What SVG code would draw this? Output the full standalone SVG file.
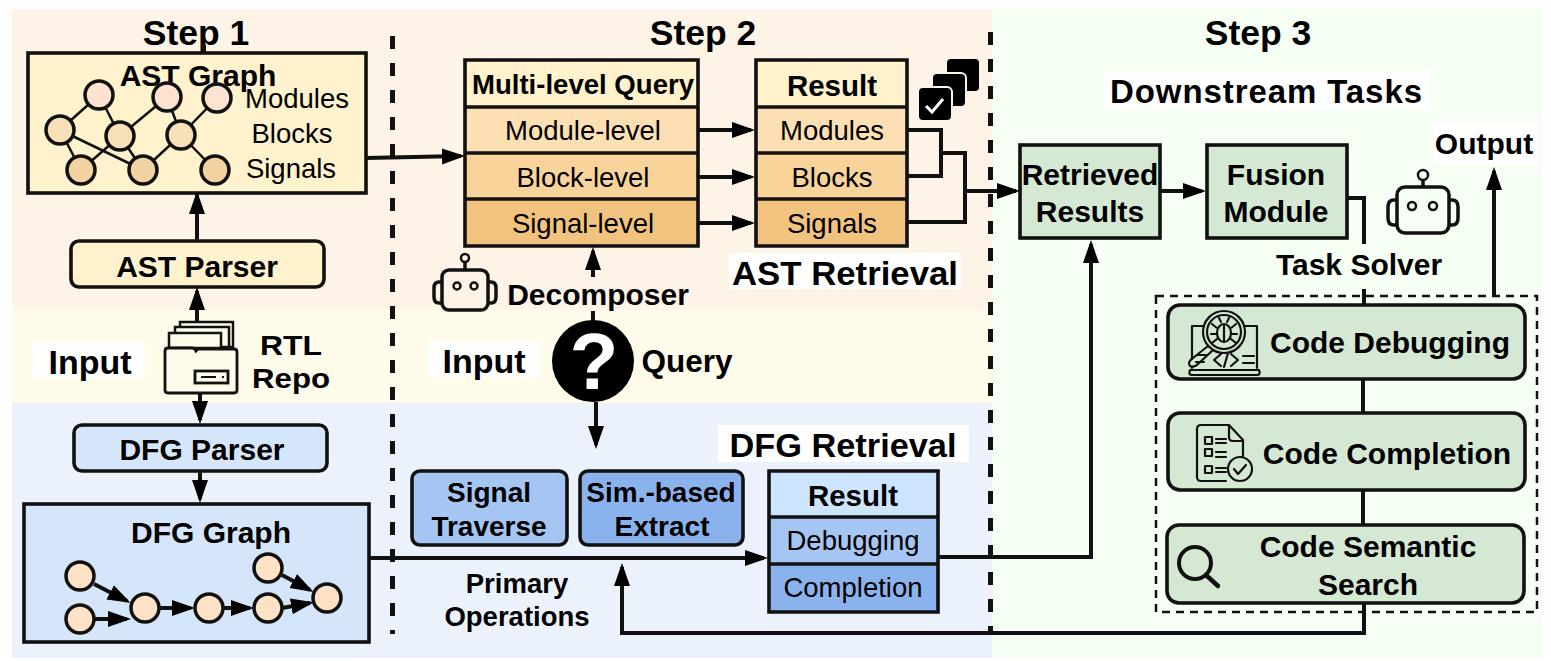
<svg xmlns="http://www.w3.org/2000/svg" width="1551" height="661" viewBox="0 0 1551 661">
<style>
text{font-family:"Liberation Sans",Arial,sans-serif;fill:#000;text-anchor:middle}
.b{font-weight:700}
.s{font-size:28px}.m{font-size:30px}.r{font-size:27.500px}.h{font-size:35.500px}
.box{stroke:#111;stroke-width:3.600}
.n{stroke:#111;stroke-width:3.500}
.e{stroke:#111;stroke-width:2.500;fill:none}
.c{stroke:#111;stroke-width:4;fill:none}
.a{marker-end:url(#ah)}
.i{fill:none;stroke:#111;stroke-width:2.200;stroke-linecap:round;stroke-linejoin:round}
.rb{fill:none;stroke:#111;stroke-width:3.500;stroke-linejoin:round}
.sep{stroke:#111;stroke-width:5;stroke-dasharray:13 14;fill:none}
</style>
<defs>
<marker id="ah" markerUnits="userSpaceOnUse" markerWidth="24" markerHeight="18" refX="19" refY="9" orient="auto"><path d="M0 1L23 9L0 17Z" fill="#000"/></marker>
</defs>
<rect x="0" y="0" width="1551" height="661" fill="#fff"/>
<g id="backgrounds">
<rect x="12" y="9" width="980" height="301" fill="#fef3e7"/>
<rect x="12" y="310" width="980" height="93" fill="#fefbeb"/>
<rect x="12" y="403" width="980" height="255" fill="#ebf2fc"/>
<rect x="992" y="9" width="550" height="649" fill="#f6fff4"/>
</g>
<path class="sep" d="M392.500 36V634"/>
<path class="sep" d="M990.500 32V634"/>
<g id="labels">
<text class="b h" x="196" y="45">Step 1</text>
<text class="b h" x="703" y="45">Step 2</text>
<text class="b h" x="1258" y="45">Step 3</text>
<rect x="1104" y="71" width="325" height="38" fill="#fff"/>
<text class="b" font-size="33" x="1266" y="103" textLength="312" lengthAdjust="spacing">Downstream Tasks</text>
<rect x="33" y="342" width="112" height="36" fill="#fff"/>
<text class="b" font-size="34" x="90" y="374">Input</text>
<text class="b" font-size="28" x="291" y="355" textLength="62" lengthAdjust="spacingAndGlyphs">RTL</text>
<text class="b" font-size="28" x="291" y="388" textLength="78" lengthAdjust="spacingAndGlyphs">Repo</text>
<rect x="428" y="341" width="112" height="36" fill="#fff"/>
<text class="b" font-size="34" x="484" y="373">Input</text>
<text class="b" font-size="31.500" x="687" y="372">Query</text>
<text class="b" font-size="30" x="598" y="305">Decomposer</text>
<rect x="729" y="253" width="232" height="36" fill="#fff"/>
<text class="b" font-size="33" x="845" y="285" textLength="226" lengthAdjust="spacingAndGlyphs">AST Retrieval</text>
<rect x="718" y="425" width="251" height="37" fill="#fff"/>
<text class="b" font-size="33" x="843" y="457" textLength="227" lengthAdjust="spacingAndGlyphs">DFG Retrieval</text>
<text class="b" font-size="27.500" x="517" y="593">Primary</text>
<text class="b" font-size="27.500" x="517" y="626">Operations</text>
<text class="b" font-size="30" x="1359" y="275">Task Solver</text>
<rect x="1433" y="122" width="104" height="43" fill="#fff"/>
<text class="b" font-size="30" x="1484" y="154">Output</text>
</g>
<g id="connectors">
<path class="c" d="M204 45V53"/>
<path class="c a" d="M197 241V195"/>
<path class="c a" d="M197 322V291"/>
<path class="c a" d="M200 391V420"/>
<path class="c a" d="M200 471V499"/>
<path class="c a" d="M366 158L461 156"/>
<path class="c a" d="M698 130H751"/>
<path class="c a" d="M698 177H751"/>
<path class="c a" d="M698 223H751"/>
<path class="c" d="M907 130H941V176H907"/>
<path class="c" d="M941 153H965V222H907"/>
<path class="c a" d="M963 191H1016"/>
<path class="c a" d="M593 277V251"/>
<path class="c" d="M593 311V322"/>
<path class="c a" d="M596 402V445"/>
<path class="c a" d="M369 558H764"/>
<path class="c a" d="M938 557H1091V244"/>
<path class="c a" d="M1364 604V633H622V567"/>
<path class="c a" d="M1161 191H1202"/>
<path class="c" d="M1347 198H1364V244"/>
<path class="c" d="M1364 289V305"/>
<path class="c" d="M1363 379V413"/>
<path class="c" d="M1363 490V525"/>
<path class="c a" d="M1494 296V171"/>
</g>
<g id="ast-graph">
<rect class="box" x="28" y="53" width="338" height="140" fill="#fff2cc"/>
<text class="b m" x="198" y="86">AST Graph</text>
<path class="e" d="M99 95L60 130M99 95L120 136M167 97L120 136M167 97L181 135M217 98L181 135M60 130L81 170M60 130L143 170M120 136L81 170M120 136L143 170M181 135L143 170M181 135L215 170"/>
<g class="n" fill="#ffe3d0"><circle cx="99" cy="95" r="14"/><circle cx="167" cy="97" r="14"/><circle cx="217" cy="98" r="14"/></g>
<g class="n" fill="#f8e0b8"><circle cx="60" cy="130" r="14"/><circle cx="120" cy="136" r="14"/><circle cx="181" cy="135" r="14"/></g>
<g class="n" fill="#f1d2a0"><circle cx="81" cy="170" r="14"/><circle cx="143" cy="170" r="14"/><circle cx="215" cy="170" r="14"/></g>
<text class="r" x="297" y="108">Modules</text>
<text class="r" x="292" y="143">Blocks</text>
<text class="r" x="291" y="178">Signals</text>
</g>
<g id="ast-parser">
<rect class="box" x="71" y="241" width="253" height="46" rx="8" fill="#fff2cc"/>
<text class="b m" x="197" y="277">AST Parser</text>
</g>
<g id="rtl-repo">
<path d="M180 347V322H233V347Z" fill="#fefbeb" stroke="#111" stroke-width="2.500"/>
<path d="M175 347V327H229V347Z" fill="#fefbeb" stroke="#111" stroke-width="2.500"/>
<path d="M169 348V333H221V348Z" fill="#fefbeb" stroke="#111" stroke-width="2.500"/>
<path d="M165 390V351Q165 348 168 348H192Q195 348 196 351L198 349H234Q237 349 237 352V390Q237 393 234 393H168Q165 393 165 390Z" fill="#fefbeb" stroke="#111" stroke-width="2.800"/>
<rect x="195" y="371" width="33" height="12" fill="#fefbeb" stroke="#111" stroke-width="2.800"/>
<path d="M201 377H216M222 377H224" stroke="#111" stroke-width="2" fill="none"/>
</g>
<g id="dfg-parser">
<rect class="box" x="74" y="425" width="253" height="46" rx="8" fill="#d6e6fa"/>
<text class="b m" x="202" y="460">DFG Parser</text>
</g>
<g id="dfg-graph">
<rect class="box" x="24" y="504" width="345" height="138" fill="#d6e6fa"/>
<text class="b m" x="211" y="543">DFG Graph</text>
<path class="c a" d="M94 584L127 601"/>
<path class="c a" d="M95 619H127"/>
<path class="c a" d="M159 608H191"/>
<path class="c a" d="M223 608H250"/>
<path class="c a" d="M282 608L310 603"/>
<path class="c a" d="M282 575L310 590"/>
<g class="n" fill="#ffe2c6"><circle cx="80" cy="576" r="14"/><circle cx="80" cy="619" r="14"/><circle cx="145" cy="608" r="14"/><circle cx="209" cy="608" r="14"/><circle cx="268" cy="608" r="14"/><circle cx="268" cy="568" r="14"/><circle cx="327" cy="598" r="14"/></g>
</g>
<g id="multi-level-query">
<rect x="465" y="60" width="233" height="47" fill="#fff2cc"/>
<rect x="465" y="107" width="233" height="46" fill="#fce0b4"/>
<rect x="465" y="153" width="233" height="46" fill="#f8d49b"/>
<rect x="465" y="199" width="233" height="47" fill="#f2c27f"/>
<path class="box" fill="none" d="M465 60H698V246H465ZM465 107H698M465 153H698M465 199H698"/>
<text class="b" font-size="27" x="583" y="94" textLength="222" lengthAdjust="spacingAndGlyphs">Multi-level Query</text>
<text class="r" x="583" y="140">Module-level</text>
<text class="r" x="583" y="187">Block-level</text>
<text class="r" x="583" y="233">Signal-level</text>
</g>
<g id="ast-result">
<rect x="756" y="60" width="151" height="47" fill="#fff2cc"/>
<rect x="756" y="107" width="151" height="46" fill="#fce0b4"/>
<rect x="756" y="153" width="151" height="46" fill="#f8d49b"/>
<rect x="756" y="199" width="151" height="47" fill="#f2c27f"/>
<path class="box" fill="none" d="M756 60H907V246H756ZM756 107H907M756 153H907M756 199H907"/>
<text class="b" font-size="29.500" x="832" y="96">Result</text>
<text class="r" x="832" y="140">Modules</text>
<text class="r" x="832" y="187">Blocks</text>
<text class="r" x="832" y="233">Signals</text>
</g>
<g id="check-icon">
<rect x="947" y="59" width="32" height="32" rx="4" fill="#000"/>
<rect x="932" y="73" width="34" height="34" rx="5" fill="#000" stroke="#fef3e7" stroke-width="2"/>
<rect x="918" y="87" width="34" height="34" rx="5" fill="#000" stroke="#fef3e7" stroke-width="2"/>
<path d="M926 106L932 112L943 99" fill="none" stroke="#fff" stroke-width="3"/>
</g>
<g id="robot-decomposer">
<rect class="rb" x="442" y="270" width="46" height="40" rx="7"/>
<path class="rb" d="M442 282H439Q434 282 434 288V297Q434 303 439 303H442M488 282H491Q496 282 496 288V297Q496 303 491 303H488M465 270V263"/>
<circle cx="465" cy="258" r="4" fill="none" stroke="#111" stroke-width="2.500"/>
<circle cx="457" cy="286" r="3.500" fill="none" stroke="#111" stroke-width="2.500"/>
<circle cx="474" cy="286" r="3.500" fill="none" stroke="#111" stroke-width="2.500"/>
</g>
<g id="query">
<ellipse cx="593" cy="361" rx="41" ry="41" fill="#000"/>
<text class="b" font-size="80" x="594" y="389" style="fill:#fff">?</text>
</g>
<g id="signal-traverse">
<rect class="box" x="412" y="471" width="155" height="74" rx="8" fill="#a5c5f2"/>
<text class="b s" x="489" y="502">Signal</text>
<text class="b s" x="489" y="536">Traverse</text>
</g>
<g id="sim-extract">
<rect class="box" x="580" y="471" width="163" height="74" rx="8" fill="#8ab3ee"/>
<text class="b s" x="661" y="502">Sim.-based</text>
<text class="b s" x="662" y="536">Extract</text>
</g>
<g id="dfg-result">
<rect x="769" y="471" width="169" height="46" fill="#cde4fd"/>
<rect x="769" y="517" width="169" height="47" fill="#a5c5f2"/>
<rect x="769" y="564" width="169" height="48" fill="#8ab3ee"/>
<path class="box" fill="none" d="M769 471H938V612H769ZM769 517H938M769 564H938"/>
<text class="b" font-size="29.500" x="853" y="506">Result</text>
<text class="r" x="853" y="550">Debugging</text>
<text class="r" x="853" y="597">Completion</text>
</g>
<g id="retrieved-results">
<rect class="box" x="1020" y="145" width="140" height="93" fill="#d5e8d4"/>
<text class="b m" x="1090" y="185">Retrieved</text>
<text class="b m" x="1090" y="222">Results</text>
</g>
<g id="fusion-module">
<rect class="box" x="1207" y="145" width="140" height="93" fill="#d5e8d4"/>
<text class="b m" x="1276" y="185">Fusion</text>
<text class="b m" x="1276" y="222">Module</text>
</g>
<g id="robot-solver">
<rect class="rb" x="1397" y="187" width="52" height="46" rx="8"/>
<path class="rb" d="M1397 200H1394Q1388 200 1388 207V218Q1388 225 1394 225H1397M1449 200H1452Q1458 200 1458 207V218Q1458 225 1452 225H1449M1423 187V181"/>
<circle cx="1423" cy="175" r="5" fill="none" stroke="#111" stroke-width="2.500"/>
<circle cx="1412" cy="206" r="4" fill="none" stroke="#111" stroke-width="2.500"/>
<circle cx="1433" cy="206" r="4" fill="none" stroke="#111" stroke-width="2.500"/>
</g>
<rect id="task-frame" x="1156" y="296" width="381" height="316" fill="none" stroke="#111" stroke-width="2.500" stroke-dasharray="8 6"/>
<g id="code-debugging">
<rect class="box" x="1168" y="305" width="357" height="74" rx="12" fill="#d5e8d4"/>
<path class="i" d="M1205 326H1192V368M1240 326H1257V368M1190 370H1259Q1261 375 1257 375H1192Q1188 375 1190 370Z"/>
<circle cx="1224" cy="332" r="21" fill="#d5e8d4" stroke="#111" stroke-width="2.200"/>
<circle cx="1224" cy="332" r="17" class="i"/>
<ellipse cx="1224" cy="333" rx="7" ry="9" class="i"/>
<path class="i" d="M1224 325V342M1217 328L1212 324M1231 328L1236 324M1217 334H1211M1231 334H1237M1217 339L1212 343M1231 339L1236 343M1221 322L1219 318M1227 322L1229 318"/>
<path d="M1208 346L1193 358Q1187 362 1190 366Q1194 368 1198 364L1213 350Z" fill="#d5e8d4" stroke="#111" stroke-width="2.200" stroke-linejoin="round"/>
<path class="i" d="M1206 355H1198M1204 362H1196M1221 354L1214 360L1221 366M1228 353L1224 367M1231 354L1238 360L1231 366M1243 356H1254M1243 363H1254"/>
<text class="b m" x="1390" y="353">Code Debugging</text>
</g>
<g id="code-completion">
<rect class="box" x="1168" y="413" width="357" height="77" rx="12" fill="#d5e8d4"/>
<path class="i" d="M1226 481H1201Q1197 481 1197 477V429Q1197 425 1201 425H1229L1243 440V456M1229 425V437Q1229 441 1233 441H1243"/>
<path class="i" d="M1205 437h7v7h-7zM1205 449h7v7h-7zM1205 466h7v7h-7zM1216 439H1226M1216 443H1226M1216 452H1226M1216 457H1226M1216 468H1226M1216 472H1226"/>
<circle cx="1240" cy="469" r="12" class="i" fill="#d5e8d4"/>
<path class="i" d="M1234 469L1238 474L1246 465"/>
<text class="b m" x="1387" y="464">Code Completion</text>
</g>
<g id="code-semantic-search">
<rect class="box" x="1167" y="525" width="357" height="78" rx="12" fill="#d5e8d4"/>
<circle cx="1195" cy="563" r="16" fill="none" stroke="#111" stroke-width="4"/>
<path d="M1206 575L1218 586" fill="none" stroke="#111" stroke-width="4.500" stroke-linecap="round"/>
<text class="b m" x="1368" y="557">Code Semantic</text>
<text class="b m" x="1368" y="595">Search</text>
</g>
</svg>
